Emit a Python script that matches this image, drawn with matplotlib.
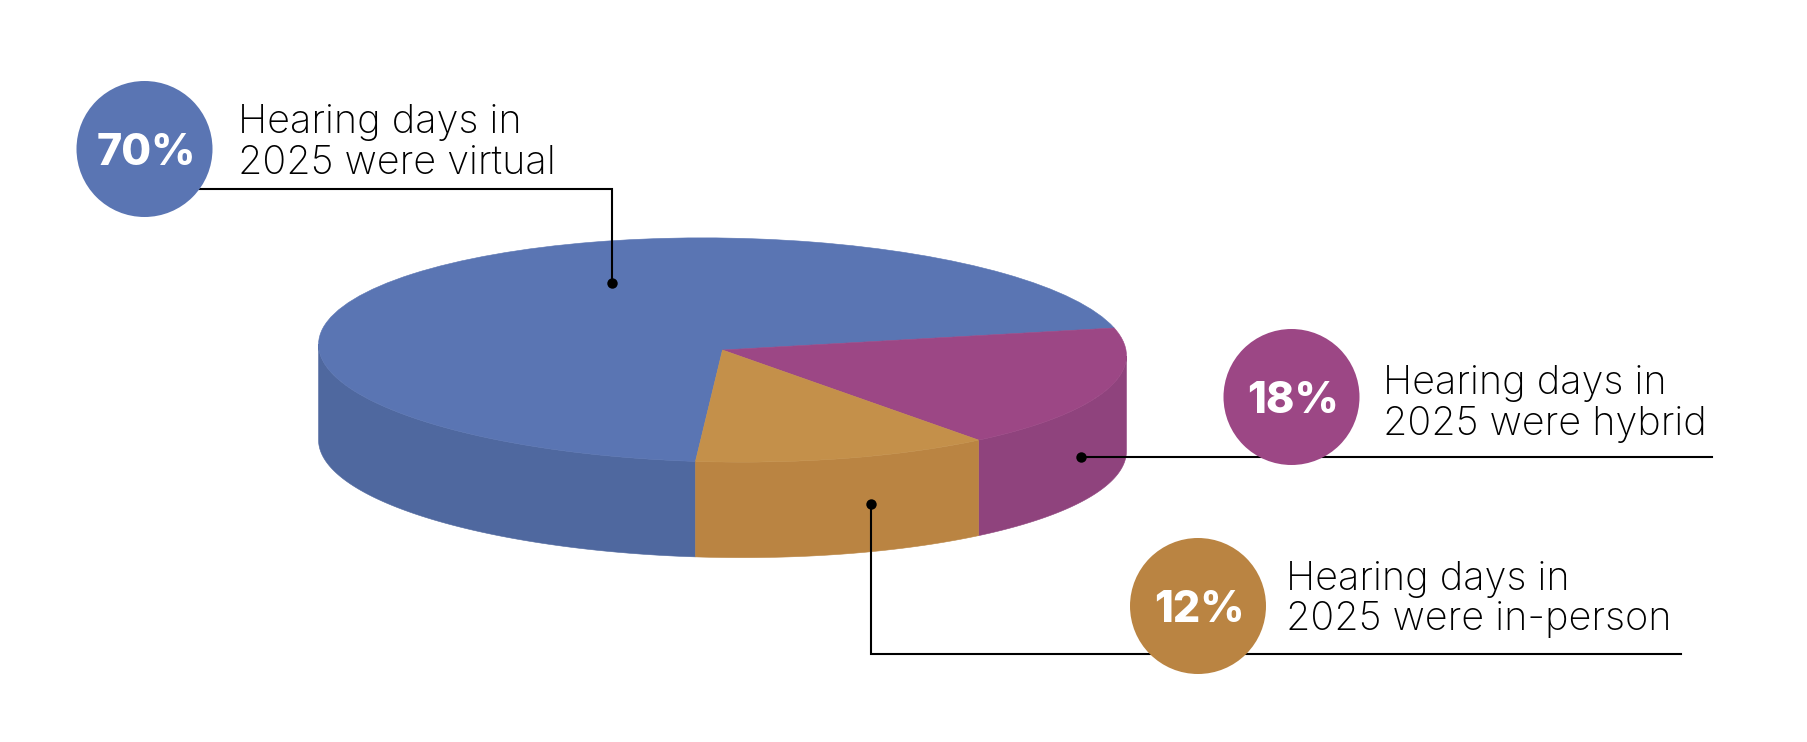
import numpy as np
import matplotlib
matplotlib.use("Agg")
import matplotlib.pyplot as plt
from matplotlib.patches import Circle
from matplotlib.transforms import Affine2D

# chart values
categories = ["virtual", "hybrid", "in-person"]
shares = [70, 18, 12]
top_colors = ["#5A75B3", "#9C4785", "#C4904A"]
side_colors = ["#4F689F", "#8F437D", "#BA8442"]
badge_colors = ["#5A75B3", "#9C4785", "#BA8442"]

# layout in image pixels, y pointing down
cx, cy = 722.5, 350
rx, ry = 404, 112
tilt = 0.85
depth = 95.5
start_angle = 93.6

fig = plt.figure(figsize=(18.08, 7.42), dpi=100)
ax = fig.add_axes([0, 0, 1, 1])

wedges, _ = ax.pie(shares, colors=top_colors, startangle=start_angle)
squash = Affine2D().scale(rx, ry).rotate_deg(tilt).translate(cx, cy)

# side wall of the disc, only the front half can be seen
for w, color in zip(wedges, side_colors):
    spans = [(w.theta1, w.theta2), (w.theta1 - 360, w.theta2 - 360)]
    for t1, t2 in spans:
        t1, t2 = max(t1, 0), min(t2, 180)
        if t2 <= t1:
            continue
        t = np.radians(np.linspace(t1, t2, 120))
        edge = squash.transform(np.column_stack([np.cos(t), np.sin(t)]))
        lower = edge[::-1] + [0, depth]
        ax.fill(*np.vstack([edge, lower]).T, fc=color, ec=color, lw=0.4, zorder=2)

# thin edge in the own colour closes the pale seams between the faces
for w, color in zip(wedges, top_colors):
    w.set_transform(squash + ax.transData)
    w.set_zorder(3)
    w.set_edgecolor(color)
    w.set_linewidth(0.4)

ax.set_xlim(0, 1808)
ax.set_ylim(742, 0)
ax.set_aspect("auto")
ax.axis("off")

# callouts: line path ending at the dot on the pie
line_paths = [
    [(144, 189), (612, 189), (612, 282.5)],
    [(1712, 457), (1081, 457)],
    [(1681, 654), (871.5, 654), (871.5, 504)],
]
badge_centers = [(144.5, 149), (1291.5, 397), (1198, 606)]
text_pos = [(238, 133, 173.5), (1383, 393.5, 435), (1286, 589.5, 630.5)]

for i, cat in enumerate(categories):
    xs, ys = zip(*line_paths[i])
    ax.plot(xs, ys, color="black", lw=1.5, zorder=4, solid_joinstyle="miter")
    ax.plot(xs[-1], ys[-1], "o", color="black", ms=7.5, mew=0, zorder=5)

    bx, by = badge_centers[i]
    ax.add_patch(Circle((bx, by), 68, color=badge_colors[i], lw=0, zorder=6))
    ax.text(bx + 1.5, by + 16, f"{shares[i]}%", color="white", fontsize=31, fontweight="heavy",
            family="Inter", ha="center", va="baseline", zorder=7)

    tx, y1, y2 = text_pos[i]
    ax.text(tx, y1, "Hearing days in", fontsize=28.5, fontweight="light", family="Inter",
            color="black", va="baseline", zorder=7)
    ax.text(tx, y2, f"2025 were {cat}", fontsize=28.5, fontweight="light", family="Inter",
            color="black", va="baseline", zorder=7)

fig.savefig("out.png", dpi=100, facecolor="white")
